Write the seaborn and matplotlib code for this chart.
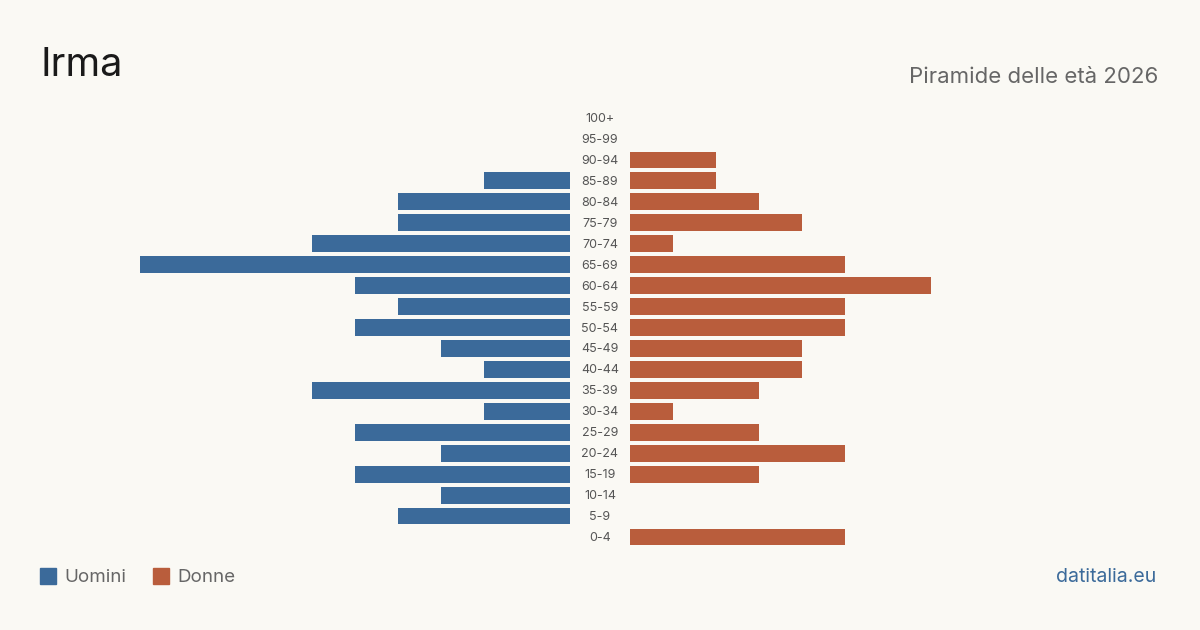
import matplotlib
matplotlib.use("Agg")
import matplotlib.pyplot as plt
import seaborn as sns
import pandas as pd
from matplotlib.patches import Rectangle

fasce = ["100+", "95-99", "90-94", "85-89", "80-84", "75-79", "70-74", "65-69",
         "60-64", "55-59", "50-54", "45-49", "40-44", "35-39", "30-34", "25-29",
         "20-24", "15-19", "10-14", "5-9", "0-4"]
uomini = [0, 0, 0, 2, 4, 4, 6, 10, 5, 4, 5, 3, 2, 6, 2, 5, 3, 5, 3, 4, 0]
donne = [0, 0, 2, 2, 3, 4, 1, 5, 7, 5, 5, 4, 4, 3, 1, 3, 5, 3, 0, 0, 5]

BLU = "#3b6a9a"
ROSSO = "#b95d3c"
SFONDO = "#faf9f4"

sns.set_theme(style="white")
plt.rcParams['font.family'] = ['Inter', 'DejaVu Sans']

df = pd.DataFrame({"fascia": fasce, "uomini": uomini, "donne": donne})

fig = plt.figure(figsize=(12, 6.3), dpi=100, facecolor=SFONDO)
bottom = 1 - 547.5 / 630
height = 440 / 630
ax_l = fig.add_axes([140 / 1200, bottom, 430 / 1200, height])
ax_r = fig.add_axes([630 / 1200, bottom, 430 / 1200, height])

sns.barplot(data=df, x="uomini", y="fascia", order=fasce, color=BLU,
            width=0.8, ax=ax_l, saturation=1, linewidth=0)
sns.barplot(data=df, x="donne", y="fascia", order=fasce, color=ROSSO,
            width=0.8, ax=ax_r, saturation=1, linewidth=0)

ax_l.set_xlim(10, 0)
ax_r.set_xlim(0, 10)
for ax in (ax_l, ax_r):
    ax.set_facecolor(SFONDO)
    ax.patch.set_alpha(0)
    ax.set_xlabel("")
    ax.set_ylabel("")
    ax.set_xticks([])
    ax.set_yticks([])
    ax.set_ylim(len(fasce) - 0.5, -0.5)
    sns.despine(ax=ax, left=True, bottom=True)

for i, f in enumerate(fasce):
    ax_r.annotate(f, xy=(0, i), xycoords=("axes fraction", "data"),
                  xytext=(-30, -1), textcoords="offset pixels",
                  ha="center", va="center", fontsize=9, color="#555555")

fig.text(40 / 1200, 1 - 66 / 630, "Irma", fontsize=28.5, color="#1a1a1a",
         ha="left", va="center")
fig.text(1158 / 1200, 1 - 77 / 630, "Piramide delle età 2026", fontsize=16,
         color="#666666", ha="right", va="center")

fig.patches.append(Rectangle((40 / 1200, 1 - 584 / 630), 16 / 1200, 16 / 630,
                             transform=fig.transFigure, color=BLU))
fig.text(64 / 1200, 1 - 577 / 630, "Uomini", fontsize=13.5, color="#666666",
         ha="left", va="center")
fig.patches.append(Rectangle((153 / 1200, 1 - 584 / 630), 16 / 1200, 16 / 630,
                             transform=fig.transFigure, color=ROSSO))
fig.text(177 / 1200, 1 - 577 / 630, "Donne", fontsize=13.5, color="#666666",
         ha="left", va="center")
fig.text(1156 / 1200, 1 - 577 / 630, "datitalia.eu", fontsize=14, color=BLU,
         ha="right", va="center")

fig.savefig("out.png", dpi=100, facecolor=SFONDO)
